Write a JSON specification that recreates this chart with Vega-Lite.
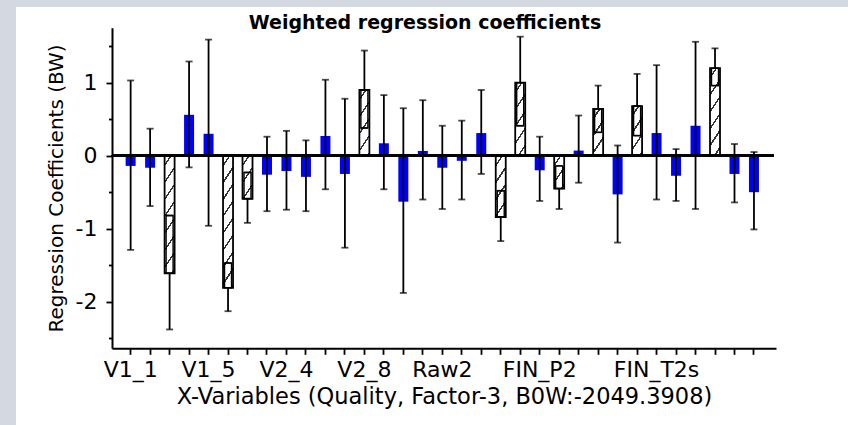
{
  "$schema": "https://vega.github.io/schema/vega-lite/v6.json",
  "width": 832,
  "height": 418,
  "autosize": {"type": "none"},
  "padding": {"left": 16, "top": 7, "right": 0, "bottom": 0},
  "background": "#d4d8e0",
  "config": {"view": {"fill": "white", "stroke": null}, "font": "DejaVu Sans"},
  "title": {"text": "Weighted regression coefficients", "font": "DejaVu Sans", "fontSize": 19, "fontWeight": "bold", "color": "black", "anchor": "middle", "frame": "group", "dx": -7, "offset": 0, "baseline": "alphabetic", "dy": 41},
  "data": {"values": [
    {"name": "V1_1", "t": "b", "v": -0.14, "lo": -1.29, "hi": 1.03},
    {"name": "V1_2", "t": "b", "v": -0.165, "lo": -0.69, "hi": 0.37},
    {"name": "V1_3", "t": "h", "v": -1.61, "lo": -2.38, "hi": -0.82},
    {"name": "V1_4", "t": "b", "v": 0.56, "lo": -0.16, "hi": 1.29},
    {"name": "V1_5", "t": "b", "v": 0.30, "lo": -0.96, "hi": 1.59},
    {"name": "V2_1", "t": "h", "v": -1.81, "lo": -2.13, "hi": -1.47},
    {"name": "V2_2", "t": "h", "v": -0.59, "lo": -0.92, "hi": -0.23},
    {"name": "V2_3", "t": "b", "v": -0.26, "lo": -0.76, "hi": 0.26},
    {"name": "V2_4", "t": "b", "v": -0.21, "lo": -0.74, "hi": 0.34},
    {"name": "V2_5", "t": "b", "v": -0.29, "lo": -0.76, "hi": 0.21},
    {"name": "V2_6", "t": "b", "v": 0.27, "lo": -0.46, "hi": 1.04},
    {"name": "V2_7", "t": "b", "v": -0.25, "lo": -1.26, "hi": 0.78},
    {"name": "V2_8", "t": "h", "v": 0.90, "lo": 0.38, "hi": 1.44},
    {"name": "V2_9", "t": "b", "v": 0.17, "lo": -0.46, "hi": 0.83},
    {"name": "V2_10", "t": "b", "v": -0.63, "lo": -1.88, "hi": 0.65},
    {"name": "Raw1", "t": "b", "v": 0.065, "lo": -0.60, "hi": 0.76},
    {"name": "Raw2", "t": "b", "v": -0.165, "lo": -0.73, "hi": 0.41},
    {"name": "Raw3", "t": "b", "v": -0.07, "lo": -0.60, "hi": 0.48},
    {"name": "FIN_V1", "t": "b", "v": 0.31, "lo": -0.25, "hi": 0.90},
    {"name": "FIN_V2", "t": "h", "v": -0.84, "lo": -1.17, "hi": -0.48},
    {"name": "FIN_P1", "t": "h", "v": 1.00, "lo": 0.41, "hi": 1.63},
    {"name": "FIN_P2", "t": "b", "v": -0.20, "lo": -0.62, "hi": 0.26},
    {"name": "FIN_P3", "t": "h", "v": -0.45, "lo": -0.73, "hi": -0.14},
    {"name": "FIN_P4", "t": "b", "v": 0.07, "lo": -0.37, "hi": 0.55},
    {"name": "FIN_T1", "t": "h", "v": 0.64, "lo": 0.32, "hi": 0.96},
    {"name": "FIN_T1s", "t": "b", "v": -0.53, "lo": -1.19, "hi": 0.14},
    {"name": "FIN_T2", "t": "h", "v": 0.68, "lo": 0.275, "hi": 1.12},
    {"name": "FIN_T2s", "t": "b", "v": 0.31, "lo": -0.60, "hi": 1.24},
    {"name": "FIN_T3", "t": "b", "v": -0.275, "lo": -0.62, "hi": 0.09},
    {"name": "FIN_T3s", "t": "b", "v": 0.41, "lo": -0.73, "hi": 1.56},
    {"name": "FIN_Q1", "t": "h", "v": 1.20, "lo": 0.96, "hi": 1.47},
    {"name": "FIN_Q2", "t": "b", "v": -0.25, "lo": -0.64, "hi": 0.16},
    {"name": "FIN_Q3", "t": "b", "v": -0.50, "lo": -1.01, "hi": 0.05}
  ]},
  "encoding": {
    "x": {
      "field": "name", "type": "nominal",
      "scale": {"domain": ["V1_1","V1_2","V1_3","V1_4","V1_5","V2_1","V2_2","V2_3","V2_4","V2_5","V2_6","V2_7","V2_8","V2_9","V2_10","Raw1","Raw2","Raw3","FIN_V1","FIN_V2","FIN_P1","FIN_P2","FIN_P3","FIN_P4","FIN_T1","FIN_T1s","FIN_T2","FIN_T2s","FIN_T3","FIN_T3s","FIN_Q1","FIN_Q2","FIN_Q3"], "range": [96, 760], "paddingInner": 0, "paddingOuter": 0.544, "align": 0.42},
      "axis": {"title": "X-Variables (Quality, Factor-3, B0W:-2049.3908)", "orient": "bottom", "offset": -76.7, "grid": false, "domainColor": "black", "domainWidth": 2, "tickColor": "black", "tickWidth": 1.8, "tickSize": 6, "labelAngle": 0, "labelFont": "DejaVu Sans", "labelFontSize": 22, "labelColor": "black", "labelPadding": 5, "labelOverlap": false, "labelExpr": "indexof(['V1_1','V1_5','V2_4','V2_8','Raw2','FIN_P2','FIN_T2s'], datum.value) >= 0 ? datum.value : ''", "titleFont": "DejaVu Sans", "titleFontSize": 22.5, "titleFontWeight": "normal", "titleColor": "black", "titlePadding": 5}
    }
  },
  "layer": [
    {
      "transform": [{"filter": "datum.t === 'b'"}],
      "mark": {"type": "bar", "width": 10, "color": "#0000ff"},
      "encoding": {
        "y": {"field": "v", "type": "quantitative", "scale": {"domain": [-2.638, 1.753], "range": [341.3, 20.7], "nice": false, "zero": false},
          "axis": {"orient": "left", "offset": -96, "values": [-2, -1, 0, 1], "grid": false, "tickSize": 6, "tickWidth": 1.8, "tickColor": "black", "domainColor": "black", "domainWidth": 2, "labelFont": "DejaVu Sans", "labelFontSize": 22, "labelColor": "black", "labelPadding": 9, "labelExpr": "datum.value < 0 ? '-' + abs(datum.value) : '' + datum.value", "title": "Regression Coefficients (BW)", "titleFont": "DejaVu Sans", "titleFontSize": 20, "titleFontWeight": "normal", "titleColor": "black", "titlePadding": 9}}
      }
    },
    {
      "mark": {"type": "rule", "color": "black", "strokeWidth": 1.8},
      "encoding": {
        "y": {"field": "lo", "type": "quantitative", "scale": {"domain": [-2.638, 1.753], "range": [341.3, 20.7], "nice": false, "zero": false}, "axis": null},
        "y2": {"field": "hi"}
      }
    },
    {
      "transform": [{"filter": "datum.t === 'h'"}],
      "mark": {"type": "bar", "width": 10, "stroke": "black", "strokeWidth": 1.8},
      "encoding": {
        "y": {"field": "v", "type": "quantitative", "scale": {"domain": [-2.638, 1.753], "range": [341.3, 20.7], "nice": false, "zero": false}, "axis": null},
        "fill": {
          "condition": [
            {"test": "datum.name === 'V1_3'", "value": {"gradient": "linear", "x1": 0, "y1": 0, "x2": 0.142, "y2": 1.110, "stops": [
              {"offset": 0.064, "color": "white"}, {"offset": 0.064, "color": "#333333"}, {"offset": 0.084, "color": "#333333"}, {"offset": 0.084, "color": "white"},
              {"offset": 0.192, "color": "white"}, {"offset": 0.192, "color": "#333333"}, {"offset": 0.212, "color": "#333333"}, {"offset": 0.212, "color": "white"},
              {"offset": 0.320, "color": "white"}, {"offset": 0.320, "color": "#333333"}, {"offset": 0.340, "color": "#333333"}, {"offset": 0.340, "color": "white"},
              {"offset": 0.448, "color": "white"}, {"offset": 0.448, "color": "#333333"}, {"offset": 0.468, "color": "#333333"}, {"offset": 0.468, "color": "white"},
              {"offset": 0.576, "color": "white"}, {"offset": 0.576, "color": "#333333"}, {"offset": 0.596, "color": "#333333"}, {"offset": 0.596, "color": "white"},
              {"offset": 0.704, "color": "white"}, {"offset": 0.704, "color": "#333333"}, {"offset": 0.724, "color": "#333333"}, {"offset": 0.724, "color": "white"},
              {"offset": 0.832, "color": "white"}, {"offset": 0.832, "color": "#333333"}, {"offset": 0.852, "color": "#333333"}, {"offset": 0.852, "color": "white"},
              {"offset": 0.960, "color": "white"}, {"offset": 0.960, "color": "#333333"}, {"offset": 0.980, "color": "#333333"}, {"offset": 0.980, "color": "white"}]}},
            {"test": "datum.name === 'V2_1'", "value": {"gradient": "linear", "x1": 0, "y1": 0, "x2": 0.125, "y2": 1.099, "stops": [
              {"offset": 0.058, "color": "white"}, {"offset": 0.058, "color": "#333333"}, {"offset": 0.076, "color": "#333333"}, {"offset": 0.076, "color": "white"},
              {"offset": 0.173, "color": "white"}, {"offset": 0.173, "color": "#333333"}, {"offset": 0.191, "color": "#333333"}, {"offset": 0.191, "color": "white"},
              {"offset": 0.288, "color": "white"}, {"offset": 0.288, "color": "#333333"}, {"offset": 0.306, "color": "#333333"}, {"offset": 0.306, "color": "white"},
              {"offset": 0.403, "color": "white"}, {"offset": 0.403, "color": "#333333"}, {"offset": 0.421, "color": "#333333"}, {"offset": 0.421, "color": "white"},
              {"offset": 0.518, "color": "white"}, {"offset": 0.518, "color": "#333333"}, {"offset": 0.536, "color": "#333333"}, {"offset": 0.536, "color": "white"},
              {"offset": 0.633, "color": "white"}, {"offset": 0.633, "color": "#333333"}, {"offset": 0.651, "color": "#333333"}, {"offset": 0.651, "color": "white"},
              {"offset": 0.748, "color": "white"}, {"offset": 0.748, "color": "#333333"}, {"offset": 0.766, "color": "#333333"}, {"offset": 0.766, "color": "white"},
              {"offset": 0.863, "color": "white"}, {"offset": 0.863, "color": "#333333"}, {"offset": 0.881, "color": "#333333"}, {"offset": 0.881, "color": "white"},
              {"offset": 0.975, "color": "white"}, {"offset": 0.975, "color": "#333333"}, {"offset": 0.993, "color": "#333333"}, {"offset": 0.993, "color": "white"}]}},
            {"test": "datum.name === 'V2_2'", "value": {"gradient": "linear", "x1": 0, "y1": 0, "x2": 0.420, "y2": 1.2025, "stops": [
              {"offset": 0.146, "color": "white"}, {"offset": 0.146, "color": "#333333"}, {"offset": 0.191, "color": "#333333"}, {"offset": 0.191, "color": "white"},
              {"offset": 0.438, "color": "white"}, {"offset": 0.438, "color": "#333333"}, {"offset": 0.483, "color": "#333333"}, {"offset": 0.483, "color": "white"},
              {"offset": 0.730, "color": "white"}, {"offset": 0.730, "color": "#333333"}, {"offset": 0.775, "color": "#333333"}, {"offset": 0.775, "color": "white"}]}},
            {"test": "datum.name === 'V2_8'", "value": {"gradient": "linear", "x1": 0, "y1": 0, "x2": 0.2665, "y2": 1.1675, "stops": [
              {"offset": 0.105, "color": "white"}, {"offset": 0.105, "color": "#333333"}, {"offset": 0.138, "color": "#333333"}, {"offset": 0.138, "color": "white"},
              {"offset": 0.315, "color": "white"}, {"offset": 0.315, "color": "#333333"}, {"offset": 0.348, "color": "#333333"}, {"offset": 0.348, "color": "white"},
              {"offset": 0.525, "color": "white"}, {"offset": 0.525, "color": "#333333"}, {"offset": 0.558, "color": "#333333"}, {"offset": 0.558, "color": "white"},
              {"offset": 0.735, "color": "white"}, {"offset": 0.735, "color": "#333333"}, {"offset": 0.768, "color": "#333333"}, {"offset": 0.768, "color": "white"},
              {"offset": 0.945, "color": "white"}, {"offset": 0.945, "color": "#333333"}, {"offset": 0.978, "color": "#333333"}, {"offset": 0.978, "color": "white"}]}},
            {"test": "datum.name === 'FIN_V2'", "value": {"gradient": "linear", "x1": 0, "y1": 0, "x2": 0.2874, "y2": 1.1744, "stops": [
              {"offset": 0.111, "color": "white"}, {"offset": 0.111, "color": "#333333"}, {"offset": 0.145, "color": "#333333"}, {"offset": 0.145, "color": "white"},
              {"offset": 0.333, "color": "white"}, {"offset": 0.333, "color": "#333333"}, {"offset": 0.367, "color": "#333333"}, {"offset": 0.367, "color": "white"},
              {"offset": 0.555, "color": "white"}, {"offset": 0.555, "color": "#333333"}, {"offset": 0.589, "color": "#333333"}, {"offset": 0.589, "color": "white"},
              {"offset": 0.777, "color": "white"}, {"offset": 0.777, "color": "#333333"}, {"offset": 0.811, "color": "#333333"}, {"offset": 0.811, "color": "white"}]}},
            {"test": "datum.name === 'FIN_P1'", "value": {"gradient": "linear", "x1": 0, "y1": 0, "x2": 0.2377, "y2": 1.1567, "stops": [
              {"offset": 0.096, "color": "white"}, {"offset": 0.096, "color": "#333333"}, {"offset": 0.127, "color": "#333333"}, {"offset": 0.127, "color": "white"},
              {"offset": 0.289, "color": "white"}, {"offset": 0.289, "color": "#333333"}, {"offset": 0.320, "color": "#333333"}, {"offset": 0.320, "color": "white"},
              {"offset": 0.482, "color": "white"}, {"offset": 0.482, "color": "#333333"}, {"offset": 0.513, "color": "#333333"}, {"offset": 0.513, "color": "white"},
              {"offset": 0.675, "color": "white"}, {"offset": 0.675, "color": "#333333"}, {"offset": 0.706, "color": "#333333"}, {"offset": 0.706, "color": "white"},
              {"offset": 0.868, "color": "white"}, {"offset": 0.868, "color": "#333333"}, {"offset": 0.899, "color": "#333333"}, {"offset": 0.899, "color": "white"}]}},
            {"test": "datum.name === 'FIN_P3'", "value": {"gradient": "linear", "x1": 0, "y1": 0, "x2": 0.5496, "y2": 1.2054, "stops": [
              {"offset": 0.176, "color": "white"}, {"offset": 0.176, "color": "#333333"}, {"offset": 0.232, "color": "#333333"}, {"offset": 0.232, "color": "white"},
              {"offset": 0.529, "color": "white"}, {"offset": 0.529, "color": "#333333"}, {"offset": 0.585, "color": "#333333"}, {"offset": 0.585, "color": "white"},
              {"offset": 0.882, "color": "white"}, {"offset": 0.882, "color": "#333333"}, {"offset": 0.938, "color": "#333333"}, {"offset": 0.938, "color": "white"}]}},
            {"test": "datum.name === 'FIN_T1'", "value": {"gradient": "linear", "x1": 0, "y1": 0, "x2": 0.3847, "y2": 1.1976, "stops": [
              {"offset": 0.137, "color": "white"}, {"offset": 0.137, "color": "#333333"}, {"offset": 0.181, "color": "#333333"}, {"offset": 0.181, "color": "white"},
              {"offset": 0.412, "color": "white"}, {"offset": 0.412, "color": "#333333"}, {"offset": 0.456, "color": "#333333"}, {"offset": 0.456, "color": "white"},
              {"offset": 0.687, "color": "white"}, {"offset": 0.687, "color": "#333333"}, {"offset": 0.731, "color": "#333333"}, {"offset": 0.731, "color": "white"},
              {"offset": 0.950, "color": "white"}, {"offset": 0.950, "color": "#333333"}, {"offset": 0.994, "color": "#333333"}, {"offset": 0.994, "color": "white"}]}},
            {"test": "datum.name === 'FIN_T2'", "value": {"gradient": "linear", "x1": 0, "y1": 0, "x2": 0.3608, "y2": 1.1932, "stops": [
              {"offset": 0.131, "color": "white"}, {"offset": 0.131, "color": "#333333"}, {"offset": 0.173, "color": "#333333"}, {"offset": 0.173, "color": "white"},
              {"offset": 0.393, "color": "white"}, {"offset": 0.393, "color": "#333333"}, {"offset": 0.435, "color": "#333333"}, {"offset": 0.435, "color": "white"},
              {"offset": 0.655, "color": "white"}, {"offset": 0.655, "color": "#333333"}, {"offset": 0.697, "color": "#333333"}, {"offset": 0.697, "color": "white"},
              {"offset": 0.917, "color": "white"}, {"offset": 0.917, "color": "#333333"}, {"offset": 0.959, "color": "#333333"}, {"offset": 0.959, "color": "white"}]}},
            {"test": "datum.name === 'FIN_Q1'", "value": {"gradient": "linear", "x1": 0, "y1": 0, "x2": 0.1948, "y2": 1.1379, "stops": [
              {"offset": 0.082, "color": "white"}, {"offset": 0.082, "color": "#333333"}, {"offset": 0.108, "color": "#333333"}, {"offset": 0.108, "color": "white"},
              {"offset": 0.247, "color": "white"}, {"offset": 0.247, "color": "#333333"}, {"offset": 0.273, "color": "#333333"}, {"offset": 0.273, "color": "white"},
              {"offset": 0.412, "color": "white"}, {"offset": 0.412, "color": "#333333"}, {"offset": 0.438, "color": "#333333"}, {"offset": 0.438, "color": "white"},
              {"offset": 0.577, "color": "white"}, {"offset": 0.577, "color": "#333333"}, {"offset": 0.603, "color": "#333333"}, {"offset": 0.603, "color": "white"},
              {"offset": 0.742, "color": "white"}, {"offset": 0.742, "color": "#333333"}, {"offset": 0.768, "color": "#333333"}, {"offset": 0.768, "color": "white"},
              {"offset": 0.907, "color": "white"}, {"offset": 0.907, "color": "#333333"}, {"offset": 0.933, "color": "#333333"}, {"offset": 0.933, "color": "white"}]}}
          ],
          "value": "white"
        }
      }
    },
    {
      "transform": [{"filter": "datum.t === 'h'"}, {"calculate": "datum.v < 0 ? datum.hi : datum.lo", "as": "inner"}],
      "mark": {"type": "bar", "width": 7, "fill": "transparent", "stroke": "black", "strokeWidth": 1.4},
      "encoding": {
        "y": {"field": "v", "type": "quantitative", "scale": {"domain": [-2.638, 1.753], "range": [341.3, 20.7], "nice": false, "zero": false}, "axis": null},
        "y2": {"field": "inner"}
      }
    },
    {
      "mark": {"type": "tick", "color": "black", "size": 7, "thickness": 1.8},
      "encoding": {
        "y": {"field": "lo", "type": "quantitative", "scale": {"domain": [-2.638, 1.753], "range": [341.3, 20.7], "nice": false, "zero": false}, "axis": null}
      }
    },
    {
      "mark": {"type": "tick", "color": "black", "size": 7, "thickness": 1.8},
      "encoding": {
        "y": {"field": "hi", "type": "quantitative", "scale": {"domain": [-2.638, 1.753], "range": [341.3, 20.7], "nice": false, "zero": false}, "axis": null}
      }
    },
    {
      "mark": {"type": "rule", "color": "black", "strokeWidth": 2},
      "encoding": {
        "x": {"datum": "V1_1", "bandPosition": -0.46,
          "axis": {"title": "X-Variables (Quality, Factor-3, B0W:-2049.3908)", "orient": "bottom", "offset": -76.7, "grid": false, "domainColor": "black", "domainWidth": 2, "tickColor": "black", "tickWidth": 1.8, "tickSize": 6, "labelAngle": 0, "labelFont": "DejaVu Sans", "labelFontSize": 22, "labelColor": "black", "labelPadding": 5, "labelOverlap": false, "labelExpr": "indexof(['V1_1','V1_5','V2_4','V2_8','Raw2','FIN_P2','FIN_T2s'], datum.value) >= 0 ? datum.value : ''", "titleFont": "DejaVu Sans", "titleFontSize": 22.5, "titleFontWeight": "normal", "titleColor": "black", "titlePadding": 5}},
        "x2": {"datum": "FIN_Q3", "bandPosition": 1.49},
        "y": {"datum": 0, "type": "quantitative", "scale": {"domain": [-2.638, 1.753], "range": [341.3, 20.7], "nice": false, "zero": false},
          "axis": {"orient": "left", "offset": -96, "values": [-2.5, -1.5, -0.5, 0.5, 1.5], "grid": false, "tickSize": 3.5, "tickWidth": 1.8, "tickColor": "black", "domain": false, "labels": false, "title": null}}
      }
    }
  ],
  "resolve": {"axis": {"y": "independent"}}
}
